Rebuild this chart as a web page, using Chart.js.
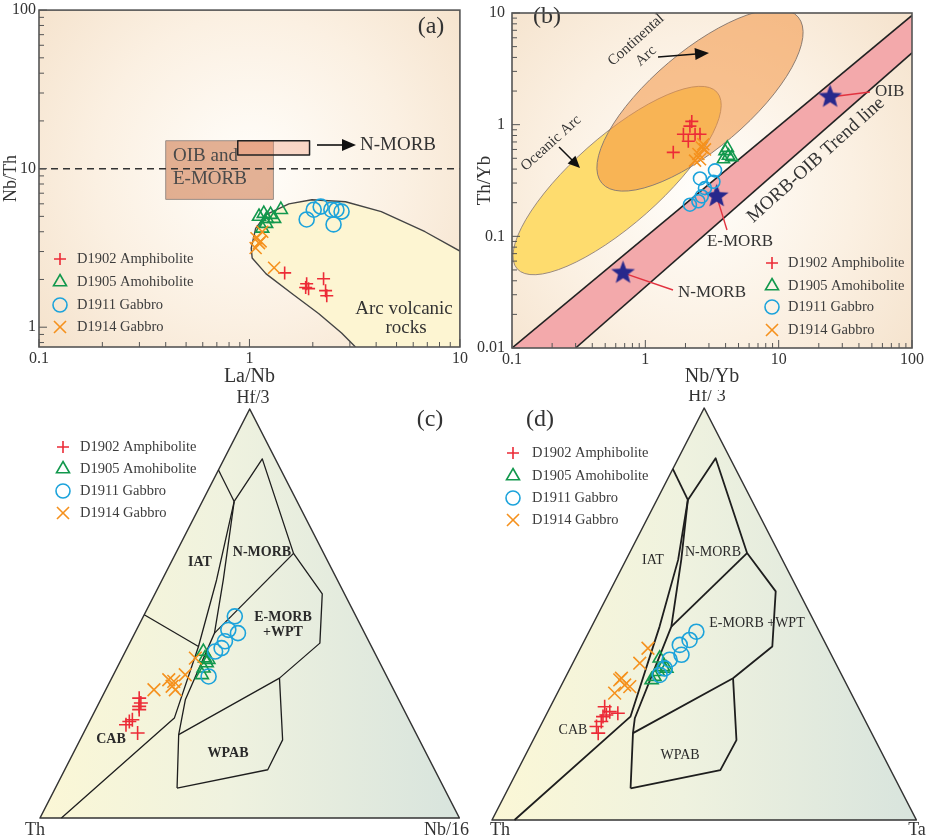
<!DOCTYPE html>
<html>
<head>
<meta charset="utf-8">
<script src="https://cdn.jsdelivr.net/npm/chart.js@4.4.1/dist/chart.umd.min.js"></script>
<style>
  html, body { margin: 0; background: #fff; }
  #wrap { position: relative; width: 927px; height: 839px; overflow: hidden; }
  canvas { position: absolute; }
</style>
</head>
<body>
<div id="wrap">
  <canvas id="chartA" style="left:0;top:0;width:470px;height:390px"></canvas>
  <canvas id="chartB" style="left:460px;top:0;width:467px;height:390px"></canvas>
  <canvas id="chartC" style="left:0;top:390px;width:470px;height:449px"></canvas>
  <canvas id="chartD" style="left:460px;top:390px;width:467px;height:449px"></canvas>
</div>
<script>
// ---------- series ----------
const seriesNames = ['D1902 Amphibolite', 'D1905 Amohibolite', 'D1911 Gabbro', 'D1914 Gabbro'];
const seriesColors = ['#ec2b37', '#12984d', '#1ca3db', '#f5911d'];
const seriesStyles = ['cross', 'triangle', 'circle', 'crossRot'];

// (a) La/Nb vs Nb/Th
const a_D1902 = [[1.47, 2.2], [1.87, 1.88], [1.91, 1.75], [2.25, 2.02], [2.30, 1.70], [2.33, 1.58], [1.85, 1.78]];
const a_D1905 = [[1.11, 4.99], [1.17, 5.2], [1.21, 4.84], [1.26, 5.13], [1.41, 5.51], [1.15, 4.2], [1.20, 4.5], [1.31, 4.84]];
const a_D1911 = [[1.87, 4.78], [2.02, 5.51], [2.18, 5.76], [2.45, 5.51], [2.59, 5.51], [2.74, 5.36], [2.51, 4.45]];
const a_D1914 = [[1.08, 3.64], [1.11, 3.39], [1.07, 3.16], [1.13, 3.48], [1.31, 2.37], [1.15, 4.0]];
const a_arcField = [[10, 3.02], [6.83, 4.0], [4.23, 5.36], [2.86, 6.18], [1.98, 6.37], [1.54, 6.0], [1.2, 5.13],
  [1.07, 4.2], [1.02, 3.15], [1.03, 2.73], [1.2, 2.17], [1.59, 1.63], [2.13, 1.22], [2.74, 0.92], [3.19, 0.75], [10, 0.75]];
const a_oibBox = [[0.4, 6.4], [1.3, 15.0]];
const a_nmorbBox = [[0.88, 12.2], [1.93, 15.0]];
const a_refLine = 10;
const a_xRange = [0.1, 10];
const a_yRange = [0.75, 100];

// (b) Nb/Yb vs Th/Yb
const b_D1902 = [[2.16, 0.97], [1.93, 0.82], [2.36, 0.82], [2.10, 0.71], [1.62, 0.565], [2.23, 1.07], [2.57, 0.82]];
const b_D1905 = [[3.96, 0.58], [4.2, 0.527], [3.85, 0.49], [4.45, 0.51], [4.12, 0.62]];
const b_D1911 = [[3.33, 0.39], [2.57, 0.33], [3.24, 0.308], [2.8, 0.27], [2.65, 0.228], [2.16, 0.192], [2.5, 0.206]];
const b_D1914 = [[2.65, 0.625], [2.5, 0.546], [2.72, 0.668], [2.36, 0.476], [2.8, 0.6], [2.57, 0.49]];
const b_refNames = ['N-MORB', 'E-MORB', 'OIB'];
const b_refValues = [[0.68, 0.047], [3.43, 0.228], [24.3, 1.77]];
const b_trendBand = [[0.1, 0.01], [100, 9.5], [100, 4.4], [0.3, 0.01]];
const b_oceanicArc = { c: [0.614, 0.316], e: [3.45, 1.95], r: 0.33 };
const b_continentalArc = { c: [2.57, 1.66], e: [14.0, 9.2], r: 0.38 };
const b_xRange = [0.1, 100];
const b_yRange = [0.01, 10];

// (c) Th - Hf/3 - Nb/16, as [Th, Hf/3, Nb/16] %
const c_D1902 = [[61.7, 29.3, 9.0], [61.9, 28.1, 10.0], [62.7, 27.3, 10.0], [63.1, 26.5, 10.4], [66.9, 23.6, 9.5], [68.1, 22.8, 9.1], [65.9, 24.0, 10.0], [66.4, 20.8, 12.9]];
const c_D1905 = [[40.7, 40.7, 18.6], [41.1, 39.1, 19.8], [41.3, 37.9, 20.8], [42.7, 36.6, 20.7], [43.9, 35.0, 21.1], [40.5, 38.7, 20.8]];
const c_D1911 = [[28.9, 49.3, 21.8], [30.2, 45.2, 24.6], [32.1, 46.0, 21.9], [35.9, 41.5, 22.5], [37.9, 40.7, 21.4], [42.5, 34.6, 22.9], [34.3, 43.2, 22.5]];
const c_D1914 = [[57.2, 31.4, 11.5], [52.4, 33.8, 13.8], [52.4, 32.2, 15.4], [52.1, 31.4, 16.6], [47.8, 35.0, 17.1], [43.4, 39.1, 17.5], [51.4, 33.4, 15.2]];
const c_iatTop = [[14.9, 85.1, 0], [15.0, 77.4, 7.6]];
const c_nmorbOuter = [[15.0, 77.4, 7.6], [3.1, 87.8, 9.1], [7.2, 64.7, 28.1], [5.3, 54.8, 39.9], [11.9, 42.8, 45.4], [25.8, 34.2, 40.0], [56.8, 20.4, 22.9]];
const c_wpab = [[25.8, 34.2, 40.0], [32.6, 19.1, 48.3], [39.8, 11.8, 48.4], [63.6, 7.3, 29.0]];
const c_emorbLeft = [[15.0, 77.4, 7.6], [27.2, 58.2, 14.6], [35.8, 45.2, 19.0], [50.9, 28.9, 20.2], [56.8, 20.4, 22.9], [63.6, 7.3, 29.0]];
const c_arcLine = [[15.0, 77.4, 7.6], [28.8, 58.2, 13.0], [41.2, 41.9, 16.8], [55.7, 24.4, 19.8], [94.9, 0, 5.1]];
const c_iatCab = [[50.3, 49.7, 0], [41.2, 41.9, 16.8]];
const c_nmorbBase = [[7.2, 64.7, 28.1], [35.8, 45.2, 19.0]];

// (d) Th - Hf/3 - Ta, as [Th, Hf/3, Ta] %
const d_D1902 = [[59.7, 27.5, 12.8], [59.1, 26.3, 14.6], [57.4, 25.9, 16.7], [61.3, 25.1, 13.6], [62.3, 23.9, 13.8], [64.1, 22.7, 13.3], [64.5, 21.1, 14.5], [60.3, 25.5, 14.2]];
const d_D1905 = [[40.9, 39.3, 19.9], [41.1, 37.2, 21.7], [42.9, 36.0, 21.1], [40.5, 36.8, 22.7], [44.3, 34.8, 20.9], [45.4, 34.0, 20.6]];
const d_D1911 = [[29.0, 45.7, 25.3], [31.6, 43.7, 24.7], [34.5, 42.5, 23.0], [35.3, 40.1, 24.6], [38.7, 38.9, 22.4], [40.9, 36.8, 22.3], [42.9, 35.2, 21.9]];
const d_D1914 = [[42.4, 41.7, 15.9], [46.2, 38.1, 15.8], [52.3, 34.4, 13.3], [52.4, 32.8, 14.9], [51.4, 32.4, 16.3], [55.7, 30.8, 13.5], [52.9, 34.0, 13.1]];
const d_iatTop = [[14.8, 85.2, 0], [15.0, 77.7, 7.3]];
const d_nmorbOuter = [[15.0, 77.7, 7.3], [3.4, 87.9, 8.8], [7.5, 64.8, 27.7], [5.4, 55.5, 39.1], [12.9, 42.1, 45.0], [26.0, 34.4, 39.6], [56.3, 21.1, 22.7]];
const d_wpab = [[26.0, 34.4, 39.6], [32.7, 19.4, 47.9], [40.1, 12.1, 47.7], [63.5, 7.7, 28.8]];
const d_emorbLeft = [[15.0, 77.7, 7.3], [23.8, 63.2, 13.0], [34.3, 47.0, 18.8], [54.0, 24.7, 21.3], [56.3, 21.1, 22.7], [63.5, 7.7, 28.8]];
const d_arcLine = [[15.0, 77.7, 7.3], [24.6, 63.2, 12.3], [37.0, 47.0, 16.0], [54.9, 25.1, 20.1], [94.7, 0, 5.3]];
const d_nmorbBase = [[7.5, 64.8, 27.7], [34.3, 47.0, 18.8]];

const triangleCorners = [[100, 0, 0], [0, 0, 100], [0, 100, 0]];

// ---------- helpers ----------
const SERIF = '"Liberation Serif", "DejaVu Serif", serif';
const TXT = '#333';

function tern(p) {
  const s = p[0] + p[1] + p[2];
  return { x: (p[2] + p[1] / 2) / s, y: p[1] / s };
}
const xy = arr => arr.map(([x, y]) => ({ x, y }));
const isPow10 = v => Math.abs(Math.log10(v) - Math.round(Math.log10(v))) < 1e-6;

function logTicks(lo, hi) {
  const out = [];
  for (let e = Math.floor(Math.log10(lo)); e <= Math.ceil(Math.log10(hi)); e++) {
    for (let m = 1; m < 10; m++) {
      const v = Number((m * Math.pow(10, e)).toPrecision(3));
      if (v >= lo - 1e-12 && v <= hi + 1e-12) out.push(v);
    }
  }
  return out;
}

function toPx(chart, v) {
  if (!Array.isArray(v)) return v;
  const d = v.length === 3 ? tern(v) : { x: v[0], y: v[1] };
  return { x: chart.scales.x.getPixelForValue(d.x), y: chart.scales.y.getPixelForValue(d.y) };
}

function rectPts(a, b) {
  return [[a[0], a[1]], [b[0], a[1]], [b[0], b[1]], [a[0], b[1]]];
}

function mark(ctx, style, x, y, r) {
  ctx.beginPath();
  if (style === 'cross') {
    ctx.moveTo(x - r, y); ctx.lineTo(x + r, y); ctx.moveTo(x, y - r); ctx.lineTo(x, y + r);
  } else if (style === 'crossRot') {
    const d = r * Math.SQRT1_2;
    ctx.moveTo(x - d, y - d); ctx.lineTo(x + d, y + d); ctx.moveTo(x + d, y - d); ctx.lineTo(x - d, y + d);
  } else if (style === 'triangle') {
    ctx.moveTo(x, y - r); ctx.lineTo(x + r * 0.866, y + r * 0.5); ctx.lineTo(x - r * 0.866, y + r * 0.5); ctx.closePath();
  } else {
    ctx.arc(x, y, r, 0, Math.PI * 2);
  }
  ctx.stroke();
}

function drawItems(chart, items) {
  const ctx = chart.ctx, ca = chart.chartArea;
  for (const it of items) {
    ctx.save();
    if (it.clip) { ctx.beginPath(); ctx.rect(ca.left, ca.top, ca.width, ca.height); ctx.clip(); }
    ctx.setLineDash(it.dash || []);
    ctx.lineWidth = it.lw || 1;
    ctx.lineJoin = 'round';
    if (it.poly || it.ellipse) {
      let pts = null;
      ctx.beginPath();
      if (it.poly) {
        pts = it.poly.map(v => toPx(chart, v));
        pts.forEach((p, i) => (i ? ctx.lineTo(p.x, p.y) : ctx.moveTo(p.x, p.y)));
        if (it.close) ctx.closePath();
      } else {
        const c = toPx(chart, it.ellipse.c), e = toPx(chart, it.ellipse.e);
        const a = Math.hypot(e.x - c.x, e.y - c.y);
        ctx.ellipse(c.x, c.y, a, a * it.ellipse.r, Math.atan2(e.y - c.y, e.x - c.x), 0, Math.PI * 2);
      }
      if (it.fill) { ctx.fillStyle = typeof it.fill === 'function' ? it.fill(ctx, pts) : it.fill; ctx.fill(); }
      if (it.stroke) { ctx.strokeStyle = it.stroke; ctx.stroke(); }
    } else if (it.arrow) {
      const p1 = toPx(chart, it.arrow[0]), p2 = toPx(chart, it.arrow[1]);
      const ang = Math.atan2(p2.y - p1.y, p2.x - p1.x), hl = it.head || 12, hw = it.hw || 5;
      const cs = Math.cos(ang), sn = Math.sin(ang);
      ctx.strokeStyle = ctx.fillStyle = it.color || '#111';
      ctx.beginPath(); ctx.moveTo(p1.x, p1.y); ctx.lineTo(p2.x - hl * 0.7 * cs, p2.y - hl * 0.7 * sn); ctx.stroke();
      ctx.beginPath(); ctx.moveTo(p2.x, p2.y);
      ctx.lineTo(p2.x - hl * cs + hw * sn, p2.y - hl * sn - hw * cs);
      ctx.lineTo(p2.x - hl * cs - hw * sn, p2.y - hl * sn + hw * cs);
      ctx.closePath(); ctx.fill();
    } else if (it.text) {
      const p = toPx(chart, it.at);
      ctx.font = it.font || `15px ${SERIF}`;
      ctx.fillStyle = it.color || TXT;
      ctx.textAlign = it.align || 'center';
      ctx.textBaseline = 'middle';
      ctx.translate(p.x, p.y);
      if (it.rot) ctx.rotate(it.rot * Math.PI / 180);
      ctx.fillText(it.text, 0, 0);
    }
    ctx.restore();
  }
}

function drawLegend(ctx, mx, tx, rows, radii) {
  ctx.save();
  ctx.font = `14.5px ${SERIF}`;
  ctx.textBaseline = 'middle';
  ctx.textAlign = 'left';
  seriesNames.forEach((name, i) => {
    ctx.strokeStyle = seriesColors[i];
    ctx.lineWidth = 1.6;
    mark(ctx, seriesStyles[i], mx, rows[i], radii[i]);
    ctx.fillStyle = '#3c3c3c';
    ctx.fillText(name, tx, rows[i]);
  });
  ctx.restore();
}

function makeDeco(spec) {
  return {
    id: 'deco',
    beforeDraw(chart) { if (spec.bg) spec.bg(chart); },
    beforeDatasetsDraw(chart) { drawItems(chart, spec.under || []); },
    afterDatasetsDraw(chart) { drawItems(chart, spec.over || []); },
    afterDraw(chart) {
      const ctx = chart.ctx;
      if (spec.frame) {
        const ca = chart.chartArea, x = chart.scales.x, y = chart.scales.y;
        ctx.save();
        ctx.strokeStyle = '#555';
        ctx.lineWidth = 1;
        ctx.beginPath();
        x.ticks.forEach(t => {
          const p = x.getPixelForValue(t.value);
          ctx.moveTo(p, ca.bottom); ctx.lineTo(p, ca.bottom - (isPow10(t.value) ? 8 : 5));
        });
        y.ticks.forEach(t => {
          const p = y.getPixelForValue(t.value);
          ctx.moveTo(ca.left, p); ctx.lineTo(ca.left + (isPow10(t.value) ? 8 : 5), p);
        });
        ctx.stroke();
        ctx.lineWidth = 1.6;
        ctx.strokeRect(ca.left, ca.top, ca.width, ca.height);
        ctx.restore();
      }
      if (spec.legend) drawLegend(ctx, spec.legend.mx, spec.legend.tx, spec.legend.rows, spec.legend.radii);
      drawItems(chart, spec.top || []);
    }
  };
}

function series(points, i, radii) {
  return {
    label: seriesNames[i], data: points,
    pointStyle: seriesStyles[i], pointRadius: radii[i], pointHoverRadius: radii[i],
    pointBorderWidth: 1.6, pointBorderColor: seriesColors[i],
    pointBackgroundColor: 'rgba(0,0,0,0)', borderColor: seriesColors[i], backgroundColor: 'rgba(0,0,0,0)'
  };
}

function logAxis(range, title, fit, titlePad, titleSize, tickPad) {
  return {
    type: 'logarithmic', min: range[0], max: range[1],
    grid: { display: false, drawTicks: false }, border: { display: false },
    afterBuildTicks: s => { s.ticks = logTicks(s.min, s.max).map(v => ({ value: v })); },
    afterFit: s => {
      fit(s);
      s.paddingTop = 0; s.paddingBottom = 0; s.paddingLeft = 0; s.paddingRight = 0;
    },
    ticks: {
      autoSkip: false, maxRotation: 0, padding: tickPad, color: TXT,
      font: { family: SERIF, size: 16 },
      callback: v => (isPow10(v) ? String(v) : '')
    },
    title: { display: true, text: title, color: TXT, font: { family: SERIF, size: titleSize }, padding: titlePad }
  };
}

function plotBg(cx, cy, rad) {
  return chart => {
    const ctx = chart.ctx, ca = chart.chartArea;
    const g = ctx.createRadialGradient(cx, cy, 10, cx, cy, rad);
    g.addColorStop(0, '#fffdf9');
    g.addColorStop(0.45, '#fbf0e2');
    g.addColorStop(1, '#f2dcc2');
    ctx.save();
    ctx.fillStyle = g;
    ctx.fillRect(ca.left, ca.top, ca.width, ca.height);
    ctx.restore();
  };
}

function triGradient(ctx, pts) {
  const xs = pts.map(p => p.x);
  const g = ctx.createLinearGradient(Math.min(...xs), 0, Math.max(...xs), 0);
  g.addColorStop(0, '#fbf7d6');
  g.addColorStop(0.45, '#eff2df');
  g.addColorStop(1, '#d8e4dd');
  return g;
}

function starImage(color, r) {
  const c = document.createElement('canvas');
  const s = Math.ceil(r * 2 + 2);
  c.width = c.height = s;
  const g = c.getContext('2d');
  g.fillStyle = color;
  g.beginPath();
  for (let k = 0; k < 10; k++) {
    const rr = k % 2 ? r * 0.42 : r;
    const ang = -Math.PI / 2 + k * Math.PI / 5;
    g.lineTo(s / 2 + rr * Math.cos(ang), s / 2 + rr * Math.sin(ang));
  }
  g.closePath();
  g.fill();
  return c;
}

const baseOptions = extra => Object.assign({
  responsive: false, animation: false, devicePixelRatio: 1,
  plugins: { legend: { display: false }, tooltip: { enabled: false } }
}, extra);

function setSize(id, w, h) {
  const el = document.getElementById(id);
  el.width = w; el.height = h;
  return el;
}

// ===================== (a) La/Nb vs Nb/Th =====================
const radiiA = [6.5, 7.5, 7.5, 8.5];
new Chart(setSize('chartA', 470, 390), {
  type: 'scatter',
  data: { datasets: [series(xy(a_D1914), 3, radiiA), series(xy(a_D1902), 0, radiiA), series(xy(a_D1911), 2, radiiA), series(xy(a_D1905), 1, radiiA)] },
  options: baseOptions({
    layout: { padding: { top: 6, right: 8 } },
    scales: {
      x: logAxis(a_xRange, 'La/Nb', s => { s.height = 43; }, { top: 0, bottom: 1 }, 20, 2),
      y: logAxis(a_yRange, 'Nb/Th', s => { s.width = 39; }, { top: 0, bottom: 0 }, 18, 3)
    }
  }),
  plugins: [makeDeco({
    bg: plotBg(250, 170, 330),
    frame: true,
    under: [
      { poly: a_arcField, close: true, fill: '#fdf5d2', clip: true },
      { poly: a_arcField.slice(0, -1), stroke: '#444', lw: 1.4, clip: true },
      { poly: rectPts(...a_oibBox), close: true, fill: 'rgba(205,118,72,0.56)', stroke: '#9a8f88', lw: 1 },
      { poly: rectPts(...a_nmorbBox), close: true, fill: 'rgba(242,150,115,0.35)', stroke: '#222', lw: 1.5 },
      { poly: [[a_xRange[0], a_refLine], [a_xRange[1], a_refLine]], stroke: '#333', lw: 1.5, dash: [7, 5] },
      { text: 'OIB and', at: { x: 173, y: 156 }, align: 'left', font: `19px ${SERIF}`, color: '#4a4a4a' },
      { text: 'E-MORB', at: { x: 173, y: 179 }, align: 'left', font: `19px ${SERIF}`, color: '#4a4a4a' },
      { arrow: [{ x: 317, y: 145 }, { x: 356, y: 145 }], head: 14, hw: 6, lw: 1.6 },
      { text: 'N-MORB', at: { x: 360, y: 145 }, align: 'left', font: `19px ${SERIF}` },
      { text: 'Arc volcanic', at: { x: 404, y: 309 }, font: `19px ${SERIF}` },
      { text: 'rocks', at: { x: 406, y: 328 }, font: `19px ${SERIF}` },
      { text: '(a)', at: { x: 431, y: 27 }, font: `24px ${SERIF}` }
    ],
    legend: { mx: 60, tx: 77, rows: [259, 282, 305, 327], radii: [6, 7.5, 7, 8.5] }
  })]
});

// ===================== (b) Nb/Yb vs Th/Yb =====================
const radiiB = [6.5, 7, 6.5, 8.5];
const starDataset = {
  label: 'reference', data: xy(b_refValues), pointStyle: starImage('#27288c', 12.5), pointRadius: 12, pointHoverRadius: 12
};
new Chart(setSize('chartB', 467, 390), {
  type: 'scatter',
  data: { datasets: [series(xy(b_D1911), 2, radiiB), series(xy(b_D1914), 3, radiiB), series(xy(b_D1902), 0, radiiB), series(xy(b_D1905), 1, radiiB), starDataset] },
  options: baseOptions({
    layout: { padding: { top: 6, right: 15 } },
    scales: {
      x: logAxis(b_xRange, 'Nb/Yb', s => { s.height = 42; }, { top: 0, bottom: 1 }, 20, 2),
      y: logAxis(b_yRange, 'Th/Yb', s => { s.width = 52; }, { top: 14, bottom: 0 }, 19, 7)
    }
  }),
  plugins: [makeDeco({
    bg: plotBg(240, 190, 330),
    frame: true,
    under: [
      { poly: b_trendBand, close: true, fill: '#f3a9ab', clip: true },
      { poly: b_trendBand.slice(0, 2), stroke: '#222', lw: 1.6, clip: true },
      { poly: b_trendBand.slice(2), stroke: '#222', lw: 1.6, clip: true },
      { ellipse: b_oceanicArc, fill: '#fedc6e', stroke: '#9b8b80', lw: 1, clip: true },
      { ellipse: b_continentalArc, fill: 'rgba(242,148,66,0.55)', stroke: '#8d7d72', lw: 1, clip: true },
      { text: 'Oceanic Arc', at: { x: 91, y: 143 }, rot: -42, font: `15px ${SERIF}` },
      { arrow: [{ x: 99, y: 147 }, { x: 120, y: 168 }], head: 12, hw: 5.5, lw: 1.5 },
      { text: 'Continental', at: { x: 176, y: 40 }, rot: -42, font: `15px ${SERIF}` },
      { text: 'Arc', at: { x: 186, y: 56 }, rot: -42, font: `15px ${SERIF}` },
      { arrow: [{ x: 198, y: 57 }, { x: 249, y: 53 }], head: 14, hw: 6, lw: 1.6 },
      { text: 'MORB-OIB Trend line', at: { x: 356, y: 160 }, rot: -42, font: `19px ${SERIF}` },
      { poly: [b_refValues[0], { x: 213, y: 290 }], stroke: '#e2323f', lw: 1.4 },
      { poly: [b_refValues[1], { x: 267, y: 230 }], stroke: '#e2323f', lw: 1.4 },
      { poly: [b_refValues[2], { x: 410, y: 92 }], stroke: '#e2323f', lw: 1.4 },
      { text: b_refNames[0], at: { x: 218, y: 293 }, align: 'left', font: `17px ${SERIF}` },
      { text: b_refNames[1], at: { x: 280, y: 242 }, font: `17px ${SERIF}` },
      { text: b_refNames[2], at: { x: 415, y: 92 }, align: 'left', font: `17px ${SERIF}` },
      { text: '(b)', at: { x: 87, y: 17 }, font: `24px ${SERIF}` }
    ],
    legend: { mx: 312, tx: 328, rows: [263, 286, 307, 330], radii: [6, 7.5, 7, 8.5] }
  })]
});

// ===================== ternary panels =====================
function ternaryChart(id, w, h, pad, sets, lines, labels, legend, lw) {
  const radii = [7, 7.5, 7.5, 9];
  new Chart(setSize(id, w, h), {
    type: 'scatter',
    data: { datasets: [series(sets[3].map(tern), 3, radii), series(sets[0].map(tern), 0, radii), series(sets[2].map(tern), 2, radii), series(sets[1].map(tern), 1, radii)] },
    options: baseOptions({
      layout: { padding: pad },
      scales: {
        x: { type: 'linear', min: 0, max: 1, display: false },
        y: { type: 'linear', min: 0, max: 1, display: false }
      }
    }),
    plugins: [makeDeco({
      bg: chart => drawItems(chart, [{ poly: triangleCorners, close: true, fill: triGradient }]),
      under: [
        { poly: triangleCorners, close: true, stroke: '#333', lw: 1.5 },
        ...lines.map(l => ({ poly: l, stroke: '#1e1e1e', lw: lw }))
      ].concat(labels),
      legend: legend
    })]
  });
}

const regionFont = `bold 14px ${SERIF}`;
const cornerFont = `18px ${SERIF}`;

ternaryChart('chartC', 470, 449, { left: 40, right: 7, top: 19, bottom: 21 },
  [c_D1902, c_D1905, c_D1911, c_D1914],
  [c_iatTop, c_nmorbOuter, c_wpab, c_emorbLeft, c_arcLine, c_iatCab, c_nmorbBase],
  [
    { text: 'IAT', at: { x: 200, y: 172 }, font: regionFont, color: '#2a2a2a' },
    { text: 'N-MORB', at: { x: 262, y: 162 }, font: regionFont, color: '#2a2a2a' },
    { text: 'E-MORB', at: { x: 283, y: 227 }, font: regionFont, color: '#2a2a2a' },
    { text: '+WPT', at: { x: 283, y: 242 }, font: regionFont, color: '#2a2a2a' },
    { text: 'CAB', at: { x: 111, y: 349 }, font: regionFont, color: '#2a2a2a' },
    { text: 'WPAB', at: { x: 228, y: 363 }, font: regionFont, color: '#2a2a2a' },
    { text: 'Hf/3', at: { x: 253, y: 8 }, font: cornerFont },
    { text: 'Th', at: { x: 35, y: 440 }, font: cornerFont },
    { text: 'Nb/16', at: { x: 469, y: 440 }, align: 'right', font: cornerFont },
    { text: '(c)', at: { x: 430, y: 30 }, font: `24px ${SERIF}` }
  ],
  { mx: 63, tx: 80, rows: [57, 79, 101, 123], radii: [6, 7.5, 7, 8.5] }, 1.3);

ternaryChart('chartD', 467, 449, { left: 32, right: 10, top: 18, bottom: 19 },
  [d_D1902, d_D1905, d_D1911, d_D1914],
  [d_iatTop, d_nmorbOuter, d_wpab, d_emorbLeft, d_arcLine, d_nmorbBase],
  [
    { text: 'IAT', at: { x: 193, y: 170 }, font: `14px ${SERIF}`, color: '#2a2a2a' },
    { text: 'N-MORB', at: { x: 253, y: 162 }, font: `14px ${SERIF}`, color: '#2a2a2a' },
    { text: 'E-MORB +WPT', at: { x: 297, y: 233 }, font: `14px ${SERIF}`, color: '#2a2a2a' },
    { text: 'CAB', at: { x: 113, y: 340 }, font: `14px ${SERIF}`, color: '#2a2a2a' },
    { text: 'WPAB', at: { x: 220, y: 365 }, font: `14px ${SERIF}`, color: '#2a2a2a' },
    { text: 'Hf/ 3', at: { x: 247, y: 6 }, font: cornerFont },
    { text: 'Th', at: { x: 40, y: 440 }, font: cornerFont },
    { text: 'Ta', at: { x: 457, y: 440 }, font: cornerFont },
    { text: '(d)', at: { x: 80, y: 30 }, font: `24px ${SERIF}` }
  ],
  { mx: 53, tx: 72, rows: [63, 86, 108, 130], radii: [6, 7.5, 7, 8.5] }, 1.8);
</script>
</body>
</html>
